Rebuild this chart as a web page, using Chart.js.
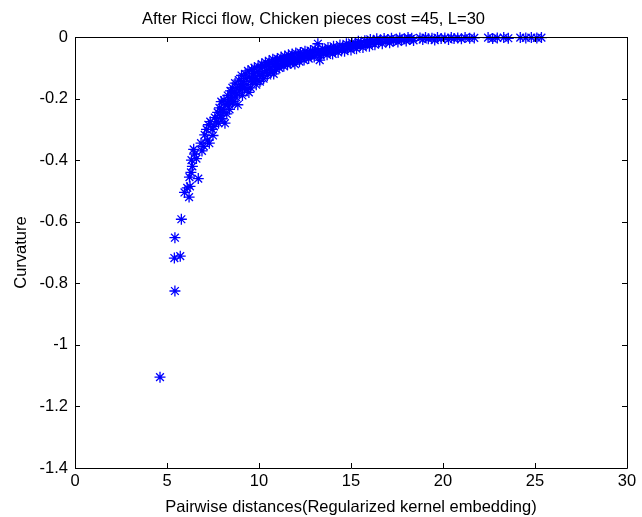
<!DOCTYPE html>
<html>
<head>
<meta charset="utf-8">
<script src="https://cdn.jsdelivr.net/npm/chart.js@4.4.1/dist/chart.umd.min.js"></script>
<style>
  html, body { margin: 0; padding: 0; background: #ffffff; }
  #wrap { width: 642px; height: 517px; }
</style>
</head>
<body>
<div id="wrap"><canvas id="c" width="642" height="517"></canvas></div>
<script>
// ---- data ----
const chartTitle = 'After Ricci flow, Chicken pieces cost =45, L=30';
const xTitle = 'Pairwise distances(Regularized kernel embedding)';
const yTitle = 'Curvature';
const xTickValues = [0, 5, 10, 15, 20, 25, 30];
const yTickValues = [0, -0.2, -0.4, -0.6, -0.8, -1, -1.2, -1.4];

const distances = [
  4.62, 5.43, 5.40, 5.72, 5.43, 5.78, 5.95, 6.10, 6.20, 6.25, 6.22, 6.30, 6.70, 6.38, 6.33, 6.50, 6.45, 6.60, 6.90, 6.85,
  7.00, 7.05, 7.15, 7.20, 7.30, 7.25, 7.35, 7.45, 7.55, 7.60, 7.70, 7.75, 7.85, 7.90, 7.95, 8.00, 8.05, 8.15, 8.10, 8.20,
  8.25, 8.30, 8.35, 8.40, 8.45, 8.50, 8.55, 8.60, 8.65, 8.70, 8.75, 8.85, 8.80, 8.90, 8.95, 9.00, 9.05, 9.10, 9.15, 9.20,
  9.25, 9.30, 9.35, 9.40, 9.45, 9.50, 9.55, 9.60, 9.65, 9.70, 9.75, 9.80, 9.85, 9.90, 9.95, 10.00, 10.05, 10.10, 10.15, 10.20,
  10.25, 10.30, 10.35, 10.40, 10.45, 10.50, 10.55, 10.60, 10.65, 10.70, 10.75, 10.80, 10.85, 10.90, 10.95, 11.00, 11.05, 11.10, 11.15, 11.20,
  11.25, 11.30, 11.35, 11.40, 11.45, 11.50, 11.55, 11.60, 11.65, 11.70, 11.75, 11.80, 11.85, 11.90, 11.95, 12.00, 12.10, 12.15, 12.20, 12.25,
  12.30, 12.40, 12.45, 12.50, 12.60, 12.65, 12.70, 12.80, 12.85, 12.90, 13.00, 13.05, 13.15, 13.20, 13.25, 13.30, 13.35, 13.45, 13.50, 13.60,
  13.70, 13.75, 13.85, 13.90, 14.00, 14.05, 14.15, 14.25, 14.30, 14.40, 14.50, 14.55, 14.65, 14.75, 14.80, 14.90, 15.00, 15.05, 15.15, 15.25,
  15.30, 15.40, 15.50, 15.55, 15.65, 15.75, 15.80, 15.90, 16.00, 16.05, 16.15, 16.25, 16.30, 16.40, 16.50, 16.60, 16.70, 16.80, 16.90, 17.00,
  17.10, 17.20, 17.30, 17.45, 17.55, 17.65, 17.75, 17.90, 18.00, 18.10, 18.20, 18.30, 18.40, 18.75, 18.90, 19.05, 19.20, 19.40, 19.55, 19.70,
  19.90, 20.10, 20.30, 20.45, 20.60, 20.80, 21.00, 21.20, 21.45, 21.70, 22.45, 22.70, 22.95, 23.30, 23.55, 24.20, 24.50, 24.80, 25.10, 25.35,
  7.50, 7.80, 8.05, 8.30, 8.55, 8.80, 9.10, 9.35, 9.60, 9.90, 10.20, 10.60, 11.00, 11.40, 11.80, 12.30, 12.80, 13.40, 14.10, 14.80
];
const curvatures = [
  -1.105, -0.825, -0.718, -0.712, -0.652, -0.592, -0.505, -0.490, -0.520, -0.485, -0.455, -0.440, -0.460, -0.420, -0.400, -0.380, -0.365, -0.395, -0.370, -0.345,
  -0.355, -0.318, -0.300, -0.335, -0.345, -0.285, -0.275, -0.300, -0.290, -0.262, -0.275, -0.245, -0.230, -0.255, -0.210, -0.265, -0.235, -0.280, -0.205, -0.220,
  -0.250, -0.190, -0.210, -0.235, -0.175, -0.195, -0.165, -0.210, -0.180, -0.150, -0.195, -0.220, -0.165, -0.140, -0.175, -0.155, -0.125, -0.190, -0.145, -0.165,
  -0.120, -0.135, -0.155, -0.110, -0.180, -0.130, -0.165, -0.105, -0.145, -0.120, -0.100, -0.135, -0.155, -0.112, -0.095, -0.125, -0.145, -0.100, -0.088, -0.118,
  -0.135, -0.095, -0.082, -0.110, -0.125, -0.090, -0.078, -0.100, -0.115, -0.085, -0.072, -0.120, -0.095, -0.080, -0.105, -0.070, -0.090, -0.100, -0.075, -0.065,
  -0.088, -0.078, -0.095, -0.062, -0.082, -0.070, -0.090, -0.058, -0.075, -0.085, -0.065, -0.055, -0.078, -0.068, -0.088, -0.052, -0.072, -0.062, -0.080, -0.050,
  -0.066, -0.058, -0.075, -0.046, -0.062, -0.054, -0.070, -0.044, -0.058, -0.050, -0.065, -0.040, -0.055, -0.022, -0.047, -0.075, -0.060, -0.038, -0.052, -0.044,
  -0.058, -0.034, -0.048, -0.040, -0.055, -0.030, -0.044, -0.036, -0.050, -0.026, -0.040, -0.032, -0.046, -0.022, -0.036, -0.028, -0.042, -0.018, -0.032, -0.024,
  -0.038, -0.014, -0.028, -0.020, -0.034, -0.012, -0.024, -0.017, -0.030, -0.008, -0.020, -0.013, -0.025, -0.006, -0.017, -0.010, -0.022, -0.005, -0.014, -0.008,
  -0.019, -0.004, -0.012, -0.007, -0.016, -0.003, -0.010, -0.006, -0.013, -0.002, -0.008, -0.004, -0.011, -0.003, -0.008, -0.002, -0.006, -0.004, -0.010, -0.002,
  -0.005, -0.003, -0.008, -0.002, -0.005, -0.003, -0.006, -0.002, -0.004, -0.003, -0.002, -0.005, -0.003, -0.002, -0.004, -0.002, -0.003, -0.002, -0.003, -0.002,
  -0.320, -0.280, -0.245, -0.215, -0.215, -0.185, -0.165, -0.170, -0.140, -0.140, -0.125, -0.105, -0.095, -0.085, -0.075, -0.068, -0.060, -0.050, -0.040, -0.032
];

const points = distances.map((d, i) => ({ x: d, y: curvatures[i] }));

const FONT = 'Liberation Sans, Arial, sans-serif';
const FONT_SIZE = 16.5;
const AXIS_COLOR = '#000000';

// MATLAB-style box with inward ticks on all four sides
const boxPlugin = {
  id: 'matlabBox',
  afterDraw(chart) {
    const { ctx, chartArea: a, scales } = chart;
    const tl = 5;
    ctx.save();
    ctx.strokeStyle = AXIS_COLOR;
    ctx.lineWidth = 1;
    ctx.beginPath();
    ctx.rect(Math.round(a.left) + 0.5, Math.round(a.top) + 0.5,
             Math.round(a.right - a.left), Math.round(a.bottom - a.top));
    xTickValues.forEach(v => {
      const px = Math.round(scales.x.getPixelForValue(v)) + 0.5;
      ctx.moveTo(px, a.bottom); ctx.lineTo(px, a.bottom - tl);
      ctx.moveTo(px, a.top); ctx.lineTo(px, a.top + tl);
    });
    yTickValues.forEach(v => {
      const py = Math.round(scales.y.getPixelForValue(v)) + 0.5;
      ctx.moveTo(a.left, py); ctx.lineTo(a.left + tl, py);
      ctx.moveTo(a.right, py); ctx.lineTo(a.right - tl, py);
    });
    ctx.stroke();
    ctx.restore();
  }
};

const fmt = v => String(Math.round(v * 10) / 10);

new Chart(document.getElementById('c'), {
  type: 'scatter',
  data: {
    datasets: [{
      label: 'curvature',
      data: points,
      pointStyle: 'star',
      pointRadius: 5.5,
      pointHoverRadius: 5.5,
      pointBorderWidth: 1.3,
      borderColor: '#0000ff',
      backgroundColor: '#0000ff',
      clip: false
    }]
  },
  options: {
    responsive: false,
    devicePixelRatio: 1,
    animation: false,
    events: [],
    layout: { padding: { left: 0, right: 15, top: 0, bottom: 0 } },
    plugins: {
      legend: { display: false },
      tooltip: { enabled: false },
      title: {
        display: true,
        text: chartTitle,
        color: '#000000',
        font: { family: FONT, size: FONT_SIZE, weight: 'normal', lineHeight: 1.2 },
        padding: { top: 9.1, bottom: 8.1 }
      }
    },
    scales: {
      x: {
        type: 'linear',
        min: 0, max: 30,
        afterBuildTicks(scale) { scale.ticks = xTickValues.map(v => ({ value: v })); },
        afterFit(scale) { scale.height = 49; },
        grid: { display: false, drawTicks: false },
        border: { display: false },
        ticks: { color: '#000000', padding: 4, font: { family: FONT, size: FONT_SIZE }, maxRotation: 0, callback: fmt },
        title: { display: true, text: xTitle, color: '#000000',
                 font: { family: FONT, size: FONT_SIZE, lineHeight: 1.2 }, padding: { top: 0, bottom: 0 } }
      },
      y: {
        type: 'linear',
        min: -1.4, max: 0,
        afterBuildTicks(scale) { scale.ticks = yTickValues.map(v => ({ value: v })); },
        afterFit(scale) { scale.width = 75; },
        grid: { display: false, drawTicks: false },
        border: { display: false },
        ticks: { color: '#000000', padding: 7, font: { family: FONT, size: FONT_SIZE }, callback: fmt },
        title: { display: true, text: yTitle, color: '#000000',
                 font: { family: FONT, size: FONT_SIZE, lineHeight: 1.2 }, padding: { top: 12, bottom: 0 } }
      }
    }
  },
  plugins: [boxPlugin]
});
</script>
</body>
</html>
